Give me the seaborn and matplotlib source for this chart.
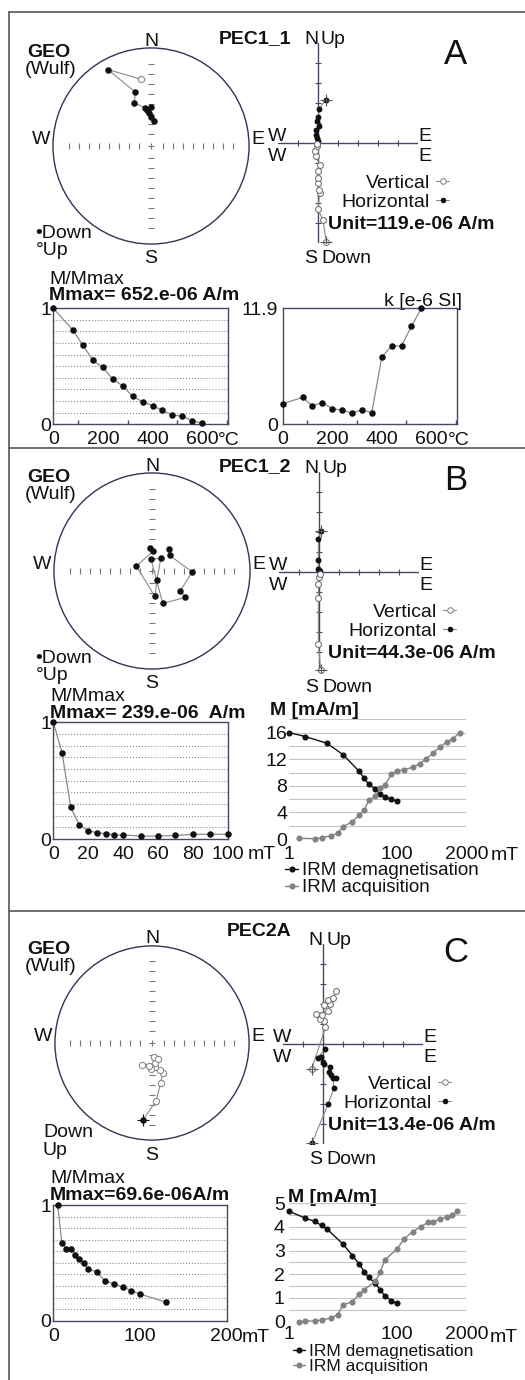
import numpy as np
import pandas as pd
import matplotlib
matplotlib.use("Agg")
import matplotlib.pyplot as plt
from matplotlib.ticker import NullLocator
import seaborn as sns

W, H = 525, 1380
FS = 14
INK = "#111111"
GREY = "#8a8a8a"
ACQ = "#828282"
AXC = "#47476b"

# ---------------- data ----------------
# stereonets: projected (east, north) on the unit circle, True = lower hemisphere (filled)
stA_e = [-0.10, -0.44, -0.16, -0.17, -0.06, -0.04, 0.00, -0.02, 0.00, 0.03]
stA_n = [0.68, 0.78, 0.55, 0.44, 0.39, 0.37, 0.40, 0.34, 0.30, 0.26]
stA_down = [False] + [True] * 9

stB_e = [-0.02, 0.01, -0.16, 0.03, 0.05, 0.09, -0.01, 0.11, 0.34, 0.29, 0.41, 0.18, 0.17]
stB_n = [0.23, 0.20, 0.05, -0.26, -0.09, 0.13, 0.12, -0.33, -0.27, -0.20, -0.01, 0.16, 0.22]
stB_down = [True] * 13

stC_e = [-0.09, 0.04, 0.09, 0.11, 0.08, 0.03, -0.01, -0.03, -0.10, 0.03, 0.02, 0.06]
stC_n = [-0.79, -0.60, -0.41, -0.31, -0.28, -0.25, -0.27, -0.24, -0.23, -0.21, -0.14, -0.16]
stC_down = [True] + [False] * 11

# Zijderveld: horizontal (E, N) and vertical (E, Up) projections, in plot units, NRM first
zA_hx = [0.38, 0.05, 0.02, -0.05, 0.05, -0.08, -0.12, -0.05, 0.00]
zA_hy = [2.17, 1.70, 1.30, 1.08, 0.83, 0.67, 0.42, 0.25, 0.08]
zA_vx = [0.42, 0.25, 0.00, 0.08, 0.05, 0.00, 0.00, 0.00, 0.08, -0.12, -0.17, -0.05, -0.03]
zA_vy = [-4.97, -3.87, -3.30, -2.50, -2.33, -2.00, -1.75, -1.42, -1.08, -0.67, -0.42, -0.17, -0.03]

zB_hx = [0.08, -0.03, -0.03, -0.05, 0.02, 0.05]
zB_hy = [2.03, 1.67, 0.58, 0.17, 0.08, 0.03]
zB_vx = [0.08, -0.03, -0.03, -0.03, 0.00, 0.03]
zB_vy = [-4.92, -3.58, -1.28, -0.58, -0.25, -0.08]

zC_hx = [-0.56, 0.25, 0.54, 0.51, 0.63, 0.42, 0.29, 0.34, 0.03, 0.00, -0.08, -0.27, 0.12]
zC_hy = [-4.97, -3.02, -2.22, -1.69, -1.69, -1.53, -1.41, -1.15, -1.02, -0.90, -0.64, -0.68, -0.25]
zC_vx = [-0.56, 0.12, 0.03, -0.14, -0.05, -0.34, 0.24, 0.34, 0.03, 0.25, 0.51, 0.63]
zC_vy = [-1.24, 0.83, 1.14, 1.25, 1.47, 1.51, 1.64, 1.98, 1.93, 2.20, 2.32, 2.66]

# thermal demagnetisation (A)
tA_temp = [0, 80, 120, 160, 200, 240, 280, 320, 360, 400, 440, 480, 520, 560, 600]
tA_m = [1.0, 0.81, 0.68, 0.55, 0.49, 0.39, 0.33, 0.24, 0.195, 0.16, 0.12, 0.08, 0.07, 0.03, 0.01]
kA_temp = [0, 80, 120, 160, 200, 240, 280, 320, 360, 400, 440, 480, 520, 560]
kA_k = [2.09, 2.77, 1.88, 2.22, 1.61, 1.44, 1.16, 1.47, 1.20, 6.87, 8.04, 8.04, 10.05, 11.9]

# AF demagnetisation (B, C)
afB_field = [0, 5, 10, 15, 20, 25, 30, 35, 40, 50, 60, 70, 80, 90, 100]
afB_m = [1.0, 0.74, 0.27, 0.12, 0.07, 0.055, 0.045, 0.035, 0.035, 0.025, 0.025, 0.03, 0.04, 0.04, 0.04]
afC_field = [5, 10, 15, 20, 25, 30, 35, 40, 50, 60, 70, 80, 90, 100, 130]
afC_m = [1.0, 0.67, 0.62, 0.62, 0.57, 0.53, 0.50, 0.45, 0.42, 0.34, 0.32, 0.29, 0.26, 0.23, 0.16]

# IRM demagnetisation / acquisition (mA/m)
irmB_dem_f = [1, 2, 5, 10, 20, 25, 30, 40, 50, 60, 80, 100]
irmB_dem_m = [16.0, 15.4, 14.4, 12.7, 10.2, 9.1, 8.3, 7.5, 6.8, 6.3, 6.0, 5.7]
irmB_acq_f = [1.5, 3, 4, 6, 8, 10, 15, 20, 25, 30, 40, 50, 60, 80, 100, 140, 200, 270, 360, 480, 640, 860, 1140, 1500]
irmB_acq_m = [0.1, 0.05, 0.2, 0.5, 0.85, 1.85, 2.6, 3.6, 4.3, 5.8, 6.4, 7.6, 8.1, 9.7, 10.2, 10.4, 10.8, 11.3, 12.1, 12.9, 13.8, 14.6, 15.1, 16.0]

irmC_dem_f = [1, 2, 3, 4, 5, 10, 15, 20, 25, 30, 40, 50, 60, 80, 100]
irmC_dem_m = [4.65, 4.37, 4.23, 4.06, 3.92, 3.28, 2.79, 2.44, 2.11, 1.87, 1.62, 1.34, 1.10, 0.89, 0.77]
irmC_acq_f = [1.5, 2, 3, 4, 6, 8, 10, 15, 20, 25, 40, 50, 60, 100, 140, 200, 280, 390, 480, 660, 860, 1100, 1350]
irmC_acq_m = [0.0, 0.02, 0.03, 0.08, 0.15, 0.3, 0.7, 0.85, 1.15, 1.35, 1.7, 2.1, 2.6, 3.05, 3.5, 3.8, 4.0, 4.2, 4.22, 4.33, 4.43, 4.5, 4.65]

# ---------------- figure ----------------
sns.set_theme(style="white")
plt.rcParams["font.family"] = ["Liberation Sans", "DejaVu Sans"]

fig = plt.figure(figsize=(W / 100, H / 100), dpi=100)
ov = fig.add_axes([0, 0, 1, 1])
ov.set_xlim(0, W)
ov.set_ylim(H, 0)
ov.axis("off")


def px_axes(x0, y0, w, h):
    ax = fig.add_axes([x0 / W, 1 - (y0 + h) / H, w / W, h / H])
    ax.set_facecolor("none")
    return ax


def txt(x, y, s, size=FS, ha="left", bold=False):
    ov.text(x, y + 0.36 * size * 100 / 72, s, fontsize=size, ha=ha, va="baseline",
            fontweight="bold" if bold else "normal", color=INK)


# frame
ov.plot([9, 9], [12, H], color="#555555", lw=1.2)
for yy in (12, 448, 911):
    ov.plot([9, W], [yy, yy], color="#555555", lw=1.2)


def stereonet(cx, cy, r, e, n, down, cross_first=False):
    ax = px_axes(cx - r, cy - r, 2 * r, 2 * r)
    df = pd.DataFrame({"e": e, "n": n, "down": down})
    ax.add_patch(plt.Circle((0, 0), 1, fill=False, lw=1.0, color="#333355"))
    tk = np.linspace(0.12, 0.84, 8)
    pos = np.concatenate([-tk[::-1], tk])
    ax.plot(pos, np.zeros_like(pos), ls="none", marker="|", ms=4, mew=0.8, color="#777777")
    ax.plot(np.zeros_like(pos), pos, ls="none", marker="_", ms=4, mew=0.8, color="#777777")
    ax.plot([0], [0], marker="+", ms=5, mew=0.8, color="#777777")
    sns.lineplot(data=df, x="e", y="n", sort=False, estimator=None, color=GREY, lw=0.8, ax=ax)
    sns.scatterplot(data=df[df["down"]], x="e", y="n", color=INK, edgecolor=INK, s=22,
                    linewidth=0, zorder=3, ax=ax)
    sns.scatterplot(data=df[~df["down"]], x="e", y="n", color="white", edgecolor=GREY, s=20,
                    linewidth=0.8, zorder=3, ax=ax)
    if cross_first:
        ax.plot(e[0], n[0], marker="+", ms=9, mew=0.8, color=INK, zorder=4)
    ax.set_xlim(-1.02, 1.02)
    ax.set_ylim(-1.02, 1.02)
    ax.axis("off")


def zijderveld(ox, oy, hx, hy, vx, vy):
    u = 20
    ax = px_axes(ox - 2 * u, oy - 5 * u, 7 * u, 10 * u)
    ax.axhline(0, color=AXC, lw=1.0)
    ax.axvline(0, color=AXC, lw=1.0)
    xt = [-1, 1, 2, 3, 4]
    yt = [-4, -3, -2, -1, 1, 2, 3, 4]
    ax.plot(xt, [0] * len(xt), ls="none", marker="|", ms=5, mew=0.8, color=AXC)
    ax.plot([0] * len(yt), yt, ls="none", marker="_", ms=5, mew=0.8, color=AXC)
    sns.lineplot(x=hx, y=hy, sort=False, estimator=None, color=GREY, lw=0.8, ax=ax)
    sns.lineplot(x=vx, y=vy, sort=False, estimator=None, color=GREY, lw=0.8, ax=ax)
    sns.scatterplot(x=hx, y=hy, color=INK, edgecolor=INK, s=18, linewidth=0, zorder=3, ax=ax)
    sns.scatterplot(x=vx, y=vy, color="white", edgecolor="#777777", s=18, linewidth=0.8,
                    zorder=3, ax=ax, clip_on=False)
    ax.plot(hx[0], hy[0], marker="+", ms=9, mew=0.8, color="#555555", zorder=4)
    ax.plot(vx[0], vy[0], marker="+", ms=9, mew=0.8, color="#555555", zorder=4)
    ax.set_xlim(-2, 5)
    ax.set_ylim(-5, 5)
    ax.axis("off")


def top_section(letter, title, title_y, cx, cy, r, st, ox, oy, zj, unit, leg_r, bullets=True):
    stereonet(cx, cy, r, *st, cross_first=not bullets)
    zijderveld(ox, oy, *zj)
    txt(291, title_y, title, ha="right", bold=True)
    txt(cx, cy - 107, "N", ha="center")
    txt(cx, cy + 110, "S", ha="center")
    txt(cx - r - 1, cy - 9, "W", ha="right")
    txt(cx + r, cy - 9, "E")
    txt(27, cy - 96, "GEO", bold=True)
    txt(25, cy - 79, "(Wulf)")
    if bullets:
        txt(35, cy + 85, "\u2022Down")
        txt(36, cy + 102, "\u00b0Up")
    else:
        txt(43, cy + 87, "Down")
        txt(43, cy + 105, "Up")
    txt(ox, oy - 106, "N", ha="right")
    txt(ox + 3, oy - 106, "Up")
    txt(ox - 1, oy + 113, "S", ha="right")
    txt(ox + 3, oy + 113, "Down")
    txt(ox - 50, oy - 9, "W")
    txt(ox - 50, oy + 11, "W")
    txt(ox + 100, oy - 9, "E")
    txt(ox + 100, oy + 11, "E")
    txt(leg_r, oy + 38, "Vertical", ha="right")
    txt(leg_r, oy + 57, "Horizontal", ha="right")
    ov.plot([leg_r + 6, leg_r + 19], [oy + 38, oy + 38], color=GREY, lw=0.8)
    ov.plot([leg_r + 12.5], [oy + 38], marker="o", ms=4, mfc="white", mec=GREY, mew=0.8)
    ov.plot([leg_r + 6, leg_r + 19], [oy + 57, oy + 57], color=GREY, lw=0.8)
    ov.plot([leg_r + 12.5], [oy + 57], marker="o", ms=4, mfc=INK, mec=INK, mew=0)
    txt(328, oy + 79, unit, bold=True)
    txt(456, cy - 94, letter, size=25, ha="center")


def box_panel(x0, y0, w, h, xs, ys, xmax, ymax, xticks, ylabels, minor_x=None, grid=True, ypad=1.5):
    ax = px_axes(x0, y0, w, h)
    sns.lineplot(x=xs, y=ys, sort=False, estimator=None, color=GREY, lw=0.9, ax=ax)
    sns.scatterplot(x=xs, y=ys, color=INK, edgecolor=INK, s=22, linewidth=0, zorder=3,
                    clip_on=False, ax=ax)
    ax.set_xlim(0, xmax)
    ax.set_ylim(0, ymax)
    ax.set_xticks(xticks)
    ax.set_xticklabels([str(t) for t in xticks])
    ax.set_yticks([0, ymax])
    ax.set_yticklabels(ylabels)
    if grid:
        ax.set_yticks(np.arange(1, 10) * ymax / 10, minor=True)
        ax.grid(which="minor", axis="y", ls=":", color="#8c8c8c", lw=0.8)
    if minor_x is not None:
        ax.set_xticks(minor_x, minor=True)
    for s in ax.spines.values():
        s.set_color(AXC)
        s.set_linewidth(1.0)
    ax.tick_params(axis="both", which="major", length=0, labelsize=FS, labelcolor=INK)
    ax.tick_params(axis="x", which="major", pad=5)
    ax.tick_params(axis="y", which="major", pad=ypad)
    ax.tick_params(axis="y", which="minor", length=0)
    ax.tick_params(axis="x", which="minor", bottom=True, direction="in", length=3, color=AXC)
    ax.set_xlabel("")
    ax.set_ylabel("")
    return ax


def irm_panel(x0, y_zero, y_unit, ymax, dem, acq, ymajor, yminor, ypad, xpad, leg_x, leg_y, legfs):
    h = ymax * y_unit
    ax = px_axes(x0, y_zero - h, 177, h)
    sns.lineplot(x=dem[0], y=dem[1], sort=False, estimator=None, color=INK, lw=1.0, marker="o",
                 markersize=4.4, markeredgecolor=INK, markeredgewidth=0, clip_on=False,
                 label="IRM demagnetisation", ax=ax)
    sns.lineplot(x=acq[0], y=acq[1], sort=False, estimator=None, color=ACQ, lw=1.0, marker="o",
                 markersize=4.4, markeredgecolor=ACQ, markeredgewidth=0, clip_on=False,
                 label="IRM acquisition", ax=ax)
    ax.set_xscale("log")
    ax.set_xlim(1, 2000)
    ax.set_ylim(0, ymax)
    for s in ax.spines.values():
        s.set_visible(False)
    ax.set_yticks(ymajor)
    ax.set_yticklabels([str(v) for v in ymajor])
    ax.set_yticks(yminor, minor=True)
    ax.grid(which="both", axis="y", color="#c4c4c4", lw=0.8)
    ax.grid(False, axis="x")
    ax.set_axisbelow(True)
    ax.set_xticks([1, 100, 2000])
    ax.set_xticklabels(["1", "100", "2000"])
    ax.xaxis.set_minor_locator(NullLocator())
    ax.tick_params(axis="both", which="both", length=0, labelsize=FS, labelcolor=INK)
    ax.tick_params(axis="x", pad=xpad)
    ax.tick_params(axis="y", pad=ypad)
    ax.set_xlabel("")
    ax.set_ylabel("")
    ax.legend(loc="upper left", bbox_to_anchor=(leg_x / W, 1 - leg_y / H),
              bbox_transform=fig.transFigure, frameon=False, fontsize=legfs, handlelength=0.7,
              handletextpad=0.2, labelspacing=0.0, borderpad=0, borderaxespad=0,
              labelcolor=INK)
    return ax


# ---------------- panel A ----------------
top_section("A", "PEC1_1", 36, 151, 146, 100, (stA_e, stA_n, stA_down),
            318, 143, (zA_hx, zA_hy, zA_vx, zA_vy), "Unit=119.e-06 A/m", 430)
box_panel(53.3, 308.3, 174.4, 116, tA_temp, tA_m, 703, 1, [0, 200, 400, 600], ["0", "1"],
          minor_x=[100, 300, 500, 700])
box_panel(282.7, 308.3, 174, 116, kA_temp, kA_k, 703, 11.9, [0, 200, 400, 600], ["0", "11.9"],
          minor_x=[100, 300, 500, 700], grid=False, ypad=3.4)
txt(49, 277, "M/Mmax")
txt(49, 293, "Mmax= 652.e-06 A/m", bold=True)
txt(462, 299, "k [e-6 SI]", ha="right")
txt(218, 438, "\u00b0C")
txt(448, 438, "\u00b0C")

# ---------------- panel B ----------------
top_section("B", "PEC1_2", 464, 152, 571, 100, (stB_e, stB_n, stB_down),
            319, 572, (zB_hx, zB_hy, zB_vx, zB_vy), "Unit=44.3e-06 A/m", 437)
box_panel(53.3, 722.3, 174.4, 116.7, afB_field, afB_m, 100, 1, [0, 20, 40, 60, 80, 100], ["0", "1"])
txt(50, 694, "M/Mmax")
txt(50, 711, "Mmax= 239.e-06  A/m", bold=True)
txt(248, 852, "mT")
irm_panel(289.3, 839, 6.65, 18, (irmB_dem_f, irmB_dem_m), (irmB_acq_f, irmB_acq_m),
          [0, 4, 8, 12, 16], [2, 6, 10, 14, 18], 1.6, 5, 285, 862, 13.5)
txt(270, 708, "M [mA/m]", bold=True)
txt(491, 853, "mT")

# ---------------- panel C ----------------
top_section("C", "PEC2A", 929, 152, 1043, 99, (stC_e, stC_n, stC_down),
            323, 1044, (zC_hx, zC_hy, zC_vx, zC_vy), "Unit=13.4e-06 A/m", 432, bullets=False)
box_panel(53.3, 1205, 173.4, 115.7, afC_field, afC_m, 200, 1, [0, 100, 200], ["0", "1"])
txt(50, 1176, "M/Mmax")
txt(50, 1193, "Mmax=69.6e-06A/m", bold=True)
txt(242, 1335, "mT")
irm_panel(289.3, 1321.7, 23.7, 5, (irmC_dem_f, irmC_dem_m), (irmC_acq_f, irmC_acq_m),
          [0, 1, 2, 3, 4, 5], [0.5, 1.5, 2.5, 3.5, 4.5], 3.3, 3, 293, 1344, 12.5)
txt(288, 1195, "M [mA/m]", bold=True)
txt(490, 1335, "mT")

fig.savefig("out.png", dpi=100)
